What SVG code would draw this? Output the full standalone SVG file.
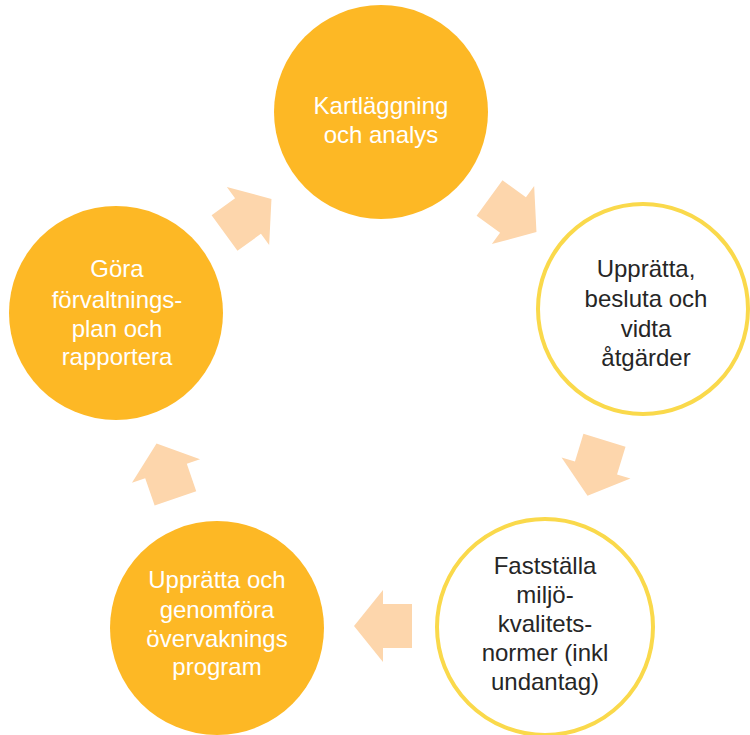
<svg xmlns="http://www.w3.org/2000/svg" width="750" height="735" viewBox="0 0 750 735">
  <style>
    .fill { fill: #FDB825; }
    .ring { fill: #FFFFFF; stroke: #FAD94B; stroke-width: 4; }
    .arrow { fill: #FDD6AC; }
    text { font-family: "Liberation Sans", Arial, sans-serif; font-size: 24px; text-anchor: middle; }
    .light { fill: #FFFFFF; }
    .dark { fill: #262626; }
  </style>
  <defs>
    <path id="blockArrow" d="M -29,-22 L 0,-22 L 0,-36 L 29,0 L 0,36 L 0,22 L -29,22 Z"/>
  </defs>
  <rect width="750" height="735" fill="#FFFFFF"/>

  <g id="connectors">
    <use href="#blockArrow" class="arrow" transform="translate(513,215) rotate(36)"/>
    <use href="#blockArrow" class="arrow" transform="translate(596,468) rotate(107)"/>
    <use href="#blockArrow" class="arrow" transform="translate(383,626) rotate(180)"/>
    <use href="#blockArrow" class="arrow" transform="translate(166,471) rotate(-109)"/>
    <use href="#blockArrow" class="arrow" transform="translate(248,216) rotate(-36)"/>
  </g>

  <g id="node-kartlaggning">
    <circle class="fill" cx="381" cy="112" r="107"/>
    <text class="light" x="381" y="114">Kartläggning</text>
    <text class="light" x="381" y="143">och analys</text>
  </g>

  <g id="node-uppratta-besluta">
    <circle class="ring" cx="643" cy="309" r="105"/>
    <text class="dark" x="646" y="277">Upprätta,</text>
    <text class="dark" x="646" y="307">besluta och</text>
    <text class="dark" x="646" y="337">vidta</text>
    <text class="dark" x="646" y="366">åtgärder</text>
  </g>

  <g id="node-faststalla">
    <circle class="ring" cx="545" cy="627" r="108"/>
    <text class="dark" x="545" y="574">Fastställa</text>
    <text class="dark" x="545" y="603">miljö-</text>
    <text class="dark" x="545" y="632">kvalitets-</text>
    <text class="dark" x="545" y="661">normer (inkl</text>
    <text class="dark" x="545" y="690">undantag)</text>
  </g>

  <g id="node-overvakning">
    <circle class="fill" cx="217" cy="628" r="107"/>
    <text class="light" x="217" y="588">Upprätta och</text>
    <text class="light" x="217" y="618">genomföra</text>
    <text class="light" x="217" y="647">övervaknings</text>
    <text class="light" x="217" y="675">program</text>
  </g>

  <g id="node-forvaltningsplan">
    <circle class="fill" cx="116" cy="313" r="107"/>
    <text class="light" x="117" y="277">Göra</text>
    <text class="light" x="117" y="308">förvaltnings-</text>
    <text class="light" x="117" y="337">plan och</text>
    <text class="light" x="117" y="365">rapportera</text>
  </g>
</svg>
